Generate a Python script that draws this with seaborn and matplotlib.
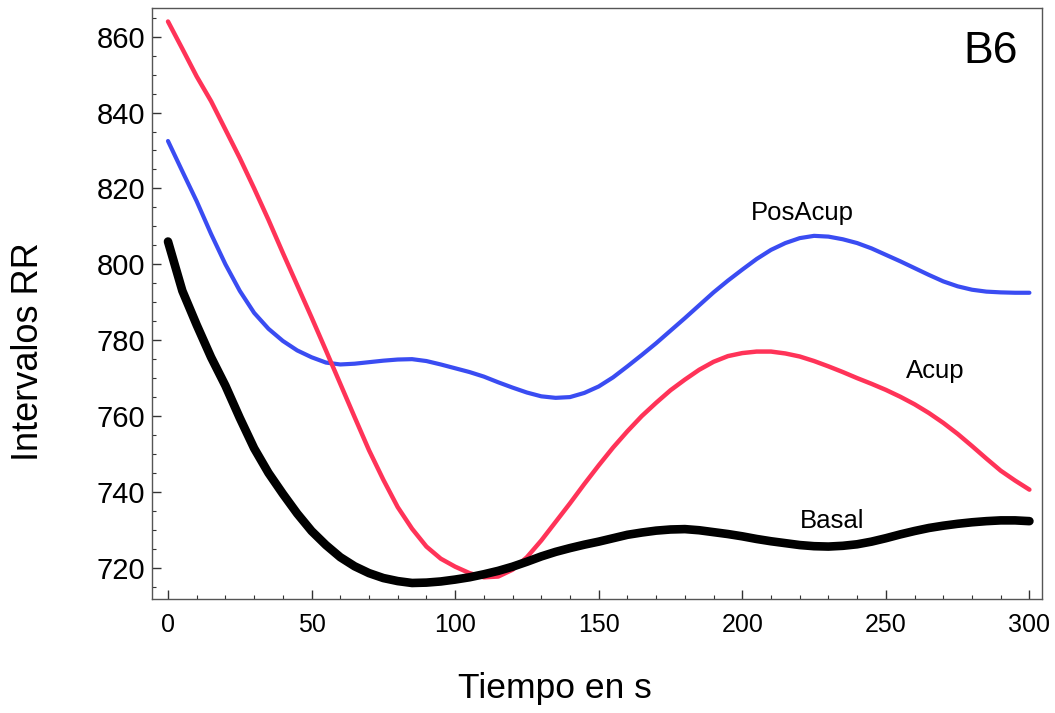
import seaborn as sns
import matplotlib.pyplot as plt
from matplotlib.ticker import MultipleLocator
import pandas as pd

# values, every 5 s
tiempo = list(range(0, 301, 5))

basal = [806, 793, 784, 775.5, 768, 759.5, 751.5, 745, 739.5, 734.3, 729.7, 726, 722.8, 720.4,
         718.6, 717.3, 716.5, 716, 716.1, 716.4, 716.9, 717.5, 718.3, 719.2, 720.3, 721.6, 723,
         724.2, 725.2, 726.1, 726.9, 727.8, 728.7, 729.3, 729.8, 730.1, 730.2, 729.9, 729.4,
         728.9, 728.3, 727.6, 727, 726.5, 726, 725.7, 725.6, 725.8, 726.2, 726.9, 727.8, 728.8,
         729.7, 730.5, 731.1, 731.6, 732, 732.3, 732.5, 732.5, 732.3]

acup = [864, 856.8, 849.5, 843, 835.5, 828, 820, 811.7, 803, 794.5, 786, 777.3, 768.5, 759.7,
        751, 743.2, 736, 730.3, 725.6, 722.4, 720.3, 718.6, 717.5, 717.7, 719.5, 722.8, 727.2,
        732.1, 737, 742.1, 747, 751.7, 756, 760, 763.5, 766.8, 769.6, 772.2, 774.3, 775.8,
        776.6, 777, 777, 776.5, 775.7, 774.5, 773.1, 771.6, 770, 768.5, 766.9, 765.1, 763.1,
        760.8, 758.2, 755.3, 752.1, 748.8, 745.6, 743, 740.6]

posacup = [832.5, 824.5, 816.6, 808, 800, 793, 787.2, 783, 779.8, 777.3, 775.5, 774.1, 773.6,
           773.8, 774.2, 774.6, 774.9, 775, 774.5, 773.6, 772.6, 771.6, 770.4, 768.9, 767.5,
           766.2, 765.2, 764.8, 765, 766.1, 767.8, 770.2, 773.1, 776.1, 779.2, 782.5, 785.8,
           789.2, 792.6, 795.7, 798.6, 801.4, 803.8, 805.6, 806.9, 807.5, 807.3, 806.6, 805.6,
           804.2, 802.5, 800.8, 799, 797.2, 795.5, 794.2, 793.3, 792.8, 792.6, 792.5, 792.5]

df = pd.DataFrame({"t": tiempo, "Basal": basal, "Acup": acup, "PosAcup": posacup})

sns.set_style("ticks")
plt.rcParams['font.family'] = ['Liberation Sans', 'DejaVu Sans']
plt.rcParams['text.color'] = 'black'
plt.rcParams['axes.labelcolor'] = 'black'
plt.rcParams['xtick.color'] = 'black'
plt.rcParams['ytick.color'] = 'black'

fig = plt.figure(figsize=(10.55, 7.13), dpi=100)
ax = fig.add_axes([0.144, 0.160, 0.844, 0.829])

sns.lineplot(data=df, x="t", y="PosAcup", ax=ax, color="#3a4cf2", linewidth=3.0)
sns.lineplot(data=df, x="t", y="Acup", ax=ax, color="#ff3358", linewidth=3.2)
sns.lineplot(data=df, x="t", y="Basal", ax=ax, color="black", linewidth=6.2)

ax.set_xlim(-5.6, 304.5)
ax.set_ylim(711.8, 867.6)
ax.xaxis.set_major_locator(MultipleLocator(50))
ax.xaxis.set_minor_locator(MultipleLocator(10))
ax.yaxis.set_major_locator(MultipleLocator(20))
ax.yaxis.set_minor_locator(MultipleLocator(5))
ax.tick_params(which='both', direction='in', top=False, right=False, color='#333333')
ax.tick_params(which='major', length=6.5, width=1.0)
ax.tick_params(which='minor', length=3.2, width=0.8)
ax.tick_params(axis='x', labelsize=18, pad=10)
ax.tick_params(axis='y', labelsize=21, pad=5)
for s in ax.spines.values():
    s.set_color('#555555')
    s.set_linewidth(1.0)

ax.set_xlabel("Tiempo en s", fontsize=25.5, va='center')
ax.set_ylabel("Intervalos RR", fontsize=26, va='center')
ax.xaxis.set_label_coords(0.453, -0.151)
ax.yaxis.set_label_coords(-0.139, 0.418)

ax.text(220.9, 813.6, "PosAcup", fontsize=18.5, ha='center', va='center')
ax.text(267.2, 771.9, "Acup", fontsize=18.5, ha='center', va='center')
ax.text(231.4, 732.3, "Basal", fontsize=18.5, ha='center', va='center')
ax.text(286.4, 856.0, "B6", fontsize=32, ha='center', va='center')

fig.savefig("out.png", dpi=100)
